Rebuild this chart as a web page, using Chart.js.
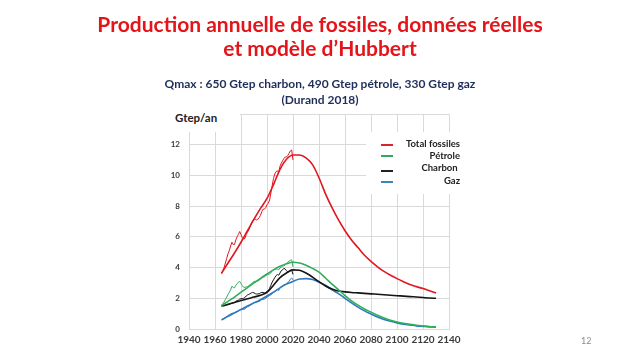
<!DOCTYPE html>
<html><head><meta charset="utf-8">
<script src="https://cdn.jsdelivr.net/npm/chart.js@4.4.1/dist/chart.umd.min.js"></script>
<style>
html,body{margin:0;padding:0;background:#fff;width:640px;height:360px;overflow:hidden;font-family:Lato,"Liberation Sans",sans-serif;}
#wrap{position:relative;width:640px;height:360px;}
#c{position:absolute;left:0;top:0;}
.t{position:absolute;left:0;width:640px;text-align:center;font-weight:bold;white-space:nowrap;}
#t1{top:12px;font-size:21px;line-height:24px;color:#e3151b;}
#t2{top:36px;font-size:21px;line-height:24px;color:#e3151b;}
#s1{top:76px;font-size:12px;line-height:16px;color:#1f2d5a;}
#s2{top:92px;font-size:12px;line-height:16px;color:#1f2d5a;}
#unit{position:absolute;left:160px;top:104px;width:80px;height:28px;background:#fff;}
#unit span{position:absolute;left:15px;top:7px;font-size:11.5px;font-weight:bold;color:#222;}
#leg{position:absolute;left:366px;top:132px;width:90px;height:62px;background:#fff;}
.li{position:absolute;left:15px;width:12px;height:0;border-top:2px solid;}
.lt{position:absolute;right:-4px;font-size:9.5px;font-weight:bold;color:#222;line-height:12px;white-space:nowrap;}
#pg{position:absolute;left:581px;top:335px;font-size:9px;color:#8c8c8c;}
</style>
</head><body>
<div id="wrap">
<canvas id="c" width="640" height="360"></canvas>
<div class="t" id="t1">Production annuelle de fossiles, données réelles</div>
<div class="t" id="t2">et modèle d’Hubbert</div>
<div class="t" id="s1">Qmax : 650 Gtep charbon, 490 Gtep pétrole, 330 Gtep gaz</div>
<div class="t" id="s2">(Durand 2018)</div>
<div id="unit"><span>Gtep/an</span></div>
<div id="leg">
  <div class="li" style="top:12px;border-color:#d9232d"></div><div class="lt" style="top:6px">Total fossiles</div>
  <div class="li" style="top:23px;border-color:#33a866"></div><div class="lt" style="top:18px">Pétrole</div>
  <div class="li" style="top:38px;border-color:#222"></div><div class="lt" style="top:30px">Charbon&nbsp;</div>
  <div class="li" style="top:49px;border-color:#3a86b8"></div><div class="lt" style="top:43px">Gaz</div>
</div>
<div id="pg">12</div>
</div>
<script>
// Years of observed data
const realYears = [1965,1966,1967,1968,1969,1970,1971,1972,1973,1974,1975,1976,1977,1978,1979,1980,1981,1982,1983,1984,1985,1986,1987,1988,1989,1990,1991,1992,1993,1994,1995,1996,1997,1998,1999,2000,2001,2002,2003,2004,2005,2006,2007,2008,2009,2010,2011,2012,2013,2014,2015,2016,2017,2018,2019,2020];
// Observed production (Gtep/an)
const totalReal = [3.6,3.8,4.0,4.3,4.6,4.9,5.1,5.4,5.65,5.5,5.5,5.8,6.0,6.15,6.35,6.15,5.95,5.85,5.9,6.15,6.3,6.45,6.65,6.9,7.05,7.15,7.15,7.1,7.15,7.25,7.4,7.65,7.8,7.8,7.9,8.1,8.2,8.4,8.85,9.35,9.8,10.1,10.25,10.3,10.2,10.6,10.8,10.95,11.1,11.2,11.2,11.3,11.45,11.6,11.65,11.0];
const oilReal = [1.53,1.65,1.76,1.92,2.08,2.25,2.38,2.55,2.78,2.72,2.68,2.85,2.95,3.05,3.1,2.95,2.82,2.72,2.7,2.75,2.75,2.82,2.88,2.97,3.02,3.1,3.1,3.12,3.12,3.18,3.23,3.3,3.38,3.4,3.47,3.53,3.55,3.58,3.65,3.8,3.85,3.88,3.92,3.9,3.85,3.98,4.02,4.08,4.12,4.17,4.28,4.35,4.42,4.48,4.5,4.05];
const coalReal = [1.5,1.52,1.5,1.55,1.6,1.62,1.62,1.64,1.68,1.7,1.74,1.8,1.85,1.88,1.95,1.97,1.98,2.0,2.05,2.15,2.22,2.25,2.3,2.35,2.38,2.35,2.3,2.28,2.28,2.3,2.35,2.38,2.38,2.35,2.38,2.45,2.5,2.65,2.85,3.05,3.2,3.35,3.48,3.55,3.5,3.65,3.8,3.85,3.95,3.9,3.8,3.72,3.74,3.82,3.85,3.55];
const gasReal = [0.6,0.65,0.7,0.76,0.82,0.88,0.93,0.98,1.02,1.04,1.05,1.1,1.13,1.17,1.23,1.25,1.27,1.27,1.3,1.4,1.45,1.47,1.55,1.62,1.68,1.72,1.75,1.76,1.78,1.79,1.85,1.93,1.92,1.95,2.0,2.08,2.12,2.18,2.23,2.3,2.37,2.43,2.5,2.57,2.5,2.7,2.77,2.83,2.87,2.9,2.97,3.03,3.1,3.25,3.32,3.2];
// Hubbert model years
const modelYears = [1965,1970,1975,1980,1985,1990,1995,2000,2005,2010,2015,2020,2025,2030,2035,2040,2045,2050,2055,2060,2065,2070,2075,2080,2085,2090,2095,2100,2105,2110,2115,2120,2125,2130];
// Hubbert model (Gtep/an)
const totalModel = [3.63,4.3,4.95,5.65,6.4,7.15,7.85,8.5,9.4,10.4,11.05,11.33,11.33,11.15,10.7,9.85,8.8,7.9,7.1,6.4,5.8,5.3,4.8,4.4,4.05,3.75,3.5,3.28,3.08,2.9,2.76,2.63,2.49,2.35];
const oilModel = [1.52,1.8,2.08,2.4,2.7,3.0,3.3,3.58,3.85,4.08,4.25,4.35,4.3,4.15,3.95,3.7,3.32,2.92,2.55,2.18,1.83,1.55,1.3,1.1,0.9,0.72,0.57,0.46,0.37,0.3,0.24,0.2,0.16,0.13];
const coalModel = [1.5,1.6,1.72,1.85,1.97,2.08,2.2,2.38,2.85,3.35,3.65,3.85,3.82,3.65,3.38,3.08,2.8,2.6,2.47,2.42,2.38,2.35,2.32,2.29,2.26,2.23,2.2,2.17,2.14,2.11,2.08,2.05,2.02,2.0];
const gasModel = [0.6,0.82,1.05,1.28,1.5,1.7,1.9,2.15,2.4,2.68,2.92,3.1,3.25,3.28,3.22,3.05,2.85,2.55,2.3,2.0,1.7,1.42,1.18,0.98,0.78,0.62,0.5,0.4,0.32,0.26,0.2,0.17,0.14,0.12];
const xTicks = [1940,1960,1980,2000,2020,2040,2060,2080,2100,2120,2140];
const yTicks = [0,2,4,6,8,10,12];

const pts = (xs, ys) => xs.map((x, i) => ({x: x, y: ys[i]}));
const C = {red:'#e1161f', green:'#2fae5a', black:'#141414', blue:'#2f78bd'};
const model = (label, ys, col) => ({label, data: pts(modelYears, ys), borderColor: col, borderWidth: 1.6, pointRadius: 0, tension: 0.4, cubicInterpolationMode: 'monotone', fill: false});
const real = (label, ys, col) => ({label, data: pts(realYears, ys), borderColor: col, borderWidth: 1, pointRadius: 0, tension: 0, fill: false});

new Chart(document.getElementById('c'), {
  type: 'line',
  data: {datasets: [
    model('Total modèle', totalModel, C.red),
    model('Pétrole modèle', oilModel, C.green),
    model('Charbon modèle', coalModel, C.black),
    model('Gaz modèle', gasModel, C.blue),
    real('Total fossiles', totalReal, C.red),
    real('Pétrole', oilReal, C.green),
    real('Charbon', coalReal, C.black),
    real('Gaz', gasReal, C.blue)
  ]},
  options: {
    responsive: false, animation: false,
    layout: {padding: {left: 160, right: 191, top: 114, bottom: 11}},
    plugins: {legend: {display: false}, tooltip: {enabled: false}},
    scales: {
      x: {type: 'linear', min: 1940, max: 2140,
        afterBuildTicks: s => { s.ticks = xTicks.map(v => ({value: v})); },
        afterFit: s => { s.height = 20; },
        grid: {color: '#d9d9d9', drawTicks: false},
        border: {color: '#d9d9d9'},
        ticks: {autoSkip: false, padding: 5, color: '#3a3a3a', font: {family: 'Lato', size: 10, weight: 'bold'}, callback: v => String(v), maxRotation: 0, minRotation: 0}
      },
      y: {min: 0, max: 14,
        afterBuildTicks: s => { s.ticks = yTicks.concat([14]).map(v => ({value: v})); },
        afterFit: s => { s.width = 29; },
        grid: {color: '#d9d9d9', drawTicks: false},
        border: {color: '#d9d9d9'},
        ticks: {autoSkip: false, padding: 9, color: '#3a3a3a', font: {family: 'Lato', size: 8, weight: 'bold'}, callback: v => (yTicks.includes(v) ? String(v) : '')}
      }
    }
  }
});
</script>
</body></html>
